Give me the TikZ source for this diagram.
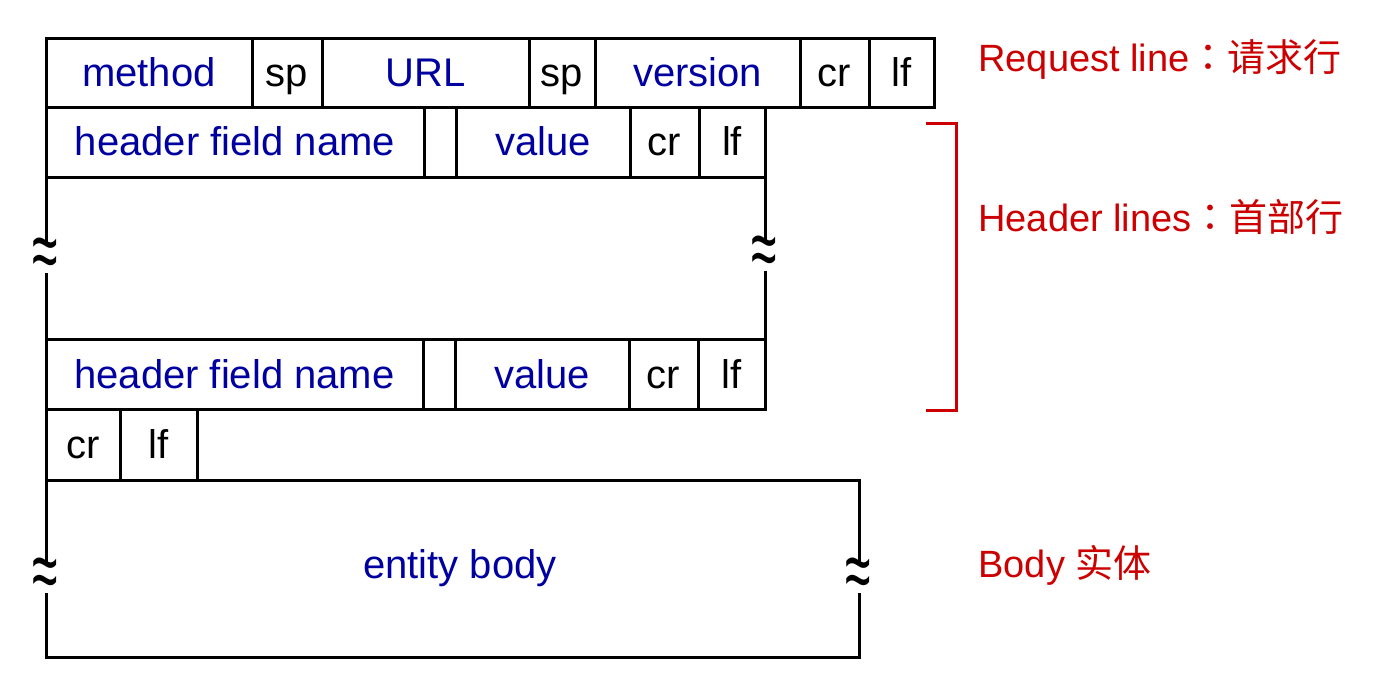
\documentclass[tikz,border=0pt]{standalone}
\usepackage{fontspec}
\setmainfont{Liberation Sans}
\newfontfamily\cjk{Noto Sans CJK SC}
\newfontfamily\cjkp{Noto Sans CJK TC}
\usetikzlibrary{positioning}
\definecolor{fieldblue}{RGB}{0,0,160}
\definecolor{notered}{RGB}{204,0,0}

\begin{document}
\begin{tikzpicture}[x=0.5pt,y=-0.5pt,
  cell/.style={line width=1.5pt},
  txt/.style={font=\fontsize{20}{24}\selectfont,text height=14.3pt,text depth=0pt,inner sep=0pt},
  blu/.style={txt,text=fieldblue},
  blk/.style={txt,text=black},
  lbl/.style={text=notered,anchor=west,inner sep=0pt,text height=13.6pt,text depth=0pt,font=\fontsize{19}{23}\selectfont},
  wavy/.style={fill=white,inner xsep=0pt,inner ysep=-3.5pt,font=\fontsize{21}{25}\selectfont}]
  \useasboundingbox (0,0) rectangle (1376,687);

  % request line
  \foreach \n/\a/\b/\txt/\s in {m/46/252/method/blu, sa/252/322/sp/blk, u/322/529/URL/blu, sb/529/595/sp/blk, v/595/800/version/blu, cr/800/869/cr/blk, lf/869/934/lf/blk} {
    \draw[cell] (\a,38) rectangle (\b,107);
    \node[\s] (req-\n) at ({(\a+\b)/2},72) {\txt};
  }

  % first header line
  \foreach \n/\a/\b/\txt/\s in {f/46/424/header field name/blu, e/424/456//blk, v/456/630/value/blu, cr/630/699/cr/blk, lf/699/765/lf/blk} {
    \draw[cell] (\a,107) rectangle (\b,177);
    \node[\s] (hda-\n) at ({(\a+\b)/2},141) {\txt};
  }

  % more header lines
  \draw[cell] (46,177) -- (46,339);
  \draw[cell] (765,177) -- (765,339);
  \node[wavy] (gapl) at (45,259) {\scalebox{1.1}[2]{≈}};
  \node[wavy] (gapr) at (764,257) {\scalebox{1.1}[2]{≈}};

  % last header line
  \foreach \n/\a/\b/\txt/\s in {f/46/423/header field name/blu, e/423/455//blk, v/455/629/value/blu, cr/629/698/cr/blk, lf/698/765/lf/blk} {
    \draw[cell] (\a,339) rectangle (\b,409);
    \node[\s] (hdb-\n) at ({(\a+\b)/2},374) {\txt};
  }

  % blank line
  \foreach \n/\a/\b/\txt in {cr/46/120/cr, lf/120/197/lf} {
    \draw[cell] (\a,409) rectangle (\b,480);
    \node[blk] (end-\n) at ({(\a+\b)/2},444) {\txt};
  }

  % body
  \draw[cell] (46,480) rectangle (859,657);
  \node[blu] (body) at (460,564) {entity body};
  \node[wavy] (bodyl) at (45,579) {\scalebox{1.1}[2]{≈}};
  \node[wavy] (bodyr) at (858,579) {\scalebox{1.1}[2]{≈}};

  % labels
  \draw[notered,line width=1.5pt] (926,123) -| (956,410) -- (926,410);
  \node[lbl] (reqlbl) at (978,58) {Request line{\cjkp ：}{\cjk 请求行}};
  \node[lbl] (hdrlbl) at (978,218) {Header lines{\cjkp ：}{\cjk 首部行}};
  \node[lbl] (bodylbl) at (978,564) {Body {\cjk 实体}};
\end{tikzpicture}
\end{document}
